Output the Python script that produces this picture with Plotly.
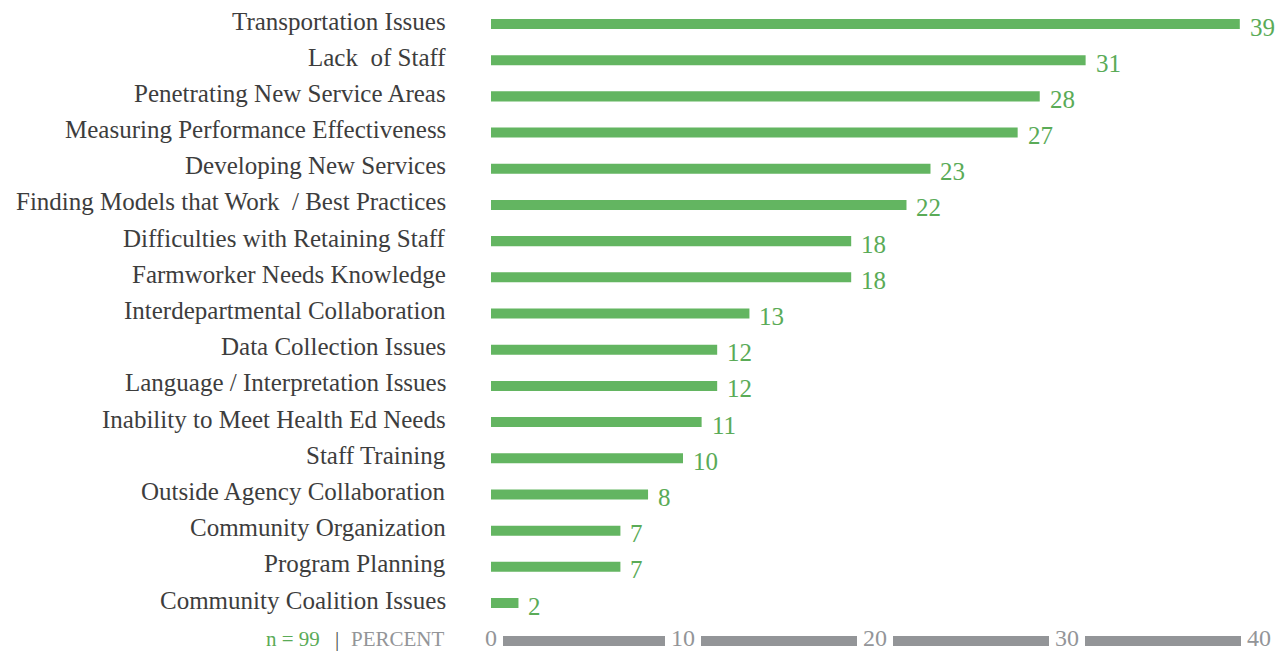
import plotly.graph_objects as go

categories = [
    "Transportation Issues",
    "Lack  of Staff",
    "Penetrating New Service Areas",
    "Measuring Performance Effectiveness",
    "Developing New Services",
    "Finding Models that Work  / Best Practices",
    "Difficulties with Retaining Staff",
    "Farmworker Needs Knowledge",
    "Interdepartmental Collaboration",
    "Data Collection Issues",
    "Language / Interpretation Issues",
    "Inability to Meet Health Ed Needs",
    "Staff Training",
    "Outside Agency Collaboration",
    "Community Organization",
    "Program Planning",
    "Community Coalition Issues",
]
# bar lengths as drawn in the reference
bar_values = [39.0, 30.97, 28.58, 27.43, 22.89, 21.64, 18.76, 18.76, 13.46, 11.78,
              11.78, 10.97, 10.0, 8.18, 6.74, 6.74, 1.43]
# printed value labels
value_labels = ["39", "31", "28", "27", "23", "22", "18", "18", "13", "12",
                "12", "11", "10", "8", "7", "7", "2"]
x_ticks = [0, 10, 20, 30, 40]

GREEN = "#63b561"
GREEN_TXT = "#5aab57"
GRAY = "#939598"
LABEL = "#3d3d3d"
FONT = "Liberation Serif"

OFF = 8  # page body margin
W, H = 1286 - OFF, 653 - OFF
ml, mr, mt, mb = 491 - OFF, 27, 0, 32
plot_w = W - ml - mr
plot_h = H - mt - mb

n = len(categories)
top_c, bot_c = 24 - OFF, 603 - OFF
ppu = (bot_c - top_c) / (n - 1)
y_hi = (n - 1) + top_c / ppu
y_lo = -(H - mb - bot_c) / ppu

def px(xpage):
    return (xpage - OFF - ml) / plot_w

def py(ypage):
    return (H - mb - (ypage - OFF)) / plot_h

fig = go.Figure()
fig.add_trace(go.Bar(
    x=bar_values, y=categories, orientation="h",
    marker=dict(color=GREEN, line=dict(width=0)),
    width=10 / ppu, hoverinfo="skip",
))

ann = []
for c in categories:
    ann.append(dict(x=px(448), xref="paper", y=c, yref="y",
                    text=c, showarrow=False, xanchor="right", yanchor="middle",
                    yshift=3, font=dict(family=FONT, size=25, color=LABEL)))
for c, v, t in zip(categories, bar_values, value_labels):
    ann.append(dict(x=v, xref="x", y=c, yref="y", text=t, showarrow=False,
                    xanchor="left", yanchor="middle", xshift=8, yshift=-3,
                    font=dict(family=FONT, size=25, color=GREEN_TXT)))

axis_c = py(641)
text_bottom = py(653)
px_per_unit = plot_w / 40.0
char_w = 12
for t in x_ticks:
    ann.append(dict(x=t, xref="x", y=text_bottom, yref="paper", text=str(t), showarrow=False,
                    xanchor="center", yanchor="bottom",
                    font=dict(family=FONT, size=24, color=GRAY)))
shapes = []
for a, b in zip(x_ticks[:-1], x_ticks[1:]):
    ha = len(str(a)) * char_w / 2 + 6
    hb = len(str(b)) * char_w / 2 + 6
    shapes.append(dict(type="rect", xref="x", yref="paper",
                       x0=a + ha / px_per_unit, x1=b - hb / px_per_unit,
                       y0=axis_c - 5 / plot_h, y1=axis_c + 5 / plot_h,
                       fillcolor=GRAY, line=dict(width=0)))

ann.append(dict(x=px(447), xref="paper", y=text_bottom, yref="paper",
                text="PERCENT", showarrow=False, xanchor="right", yanchor="bottom",
                font=dict(family=FONT, size=21, color=GRAY)))
ann.append(dict(x=px(341), xref="paper", y=text_bottom, yref="paper",
                text="|", showarrow=False, xanchor="right", yanchor="bottom",
                font=dict(family=FONT, size=21, color="#4a4a4a")))
ann.append(dict(x=px(322), xref="paper", y=text_bottom, yref="paper",
                text="n = 99", showarrow=False, xanchor="right", yanchor="bottom",
                font=dict(family=FONT, size=21, color=GREEN_TXT)))

fig.update_layout(
    width=W, height=H,
    margin=dict(l=ml, r=mr, t=mt, b=mb, pad=0),
    paper_bgcolor="white", plot_bgcolor="white",
    showlegend=False,
    xaxis=dict(range=[0, 40], showgrid=False, zeroline=False, showticklabels=False,
               showline=False, ticks=""),
    yaxis=dict(categoryorder="array", categoryarray=categories[::-1],
               range=[y_lo, y_hi],
               showgrid=False, zeroline=False, showticklabels=False, ticks=""),
    annotations=ann, shapes=shapes,
)
fig.write_html("out.html")
